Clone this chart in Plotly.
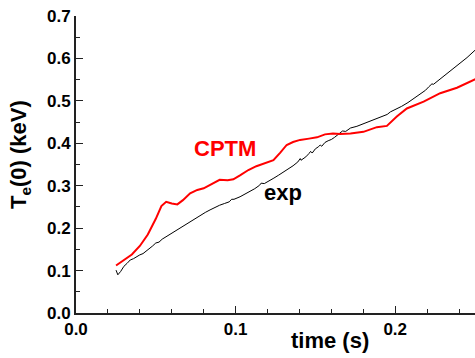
import plotly.graph_objects as go

# CPTM model (red)
cptm_t = [0.0251, 0.030, 0.035, 0.040, 0.045, 0.050, 0.0535, 0.0565, 0.060, 0.0635,
          0.067, 0.0715, 0.076, 0.080, 0.085, 0.090, 0.095, 0.0986, 0.103, 0.108,
          0.113, 0.118, 0.1237, 0.128, 0.132, 0.136, 0.1404, 0.146, 0.151, 0.156,
          0.161, 0.1655, 0.172, 0.1801, 0.1885, 0.1948, 0.198, 0.201, 0.2073, 0.2178,
          0.2282, 0.2387, 0.2502]
cptm_te = [0.112, 0.124, 0.138, 0.158, 0.185, 0.222, 0.252, 0.262, 0.258, 0.256,
           0.266, 0.282, 0.290, 0.294, 0.305, 0.314, 0.313, 0.315, 0.325, 0.337,
           0.346, 0.352, 0.360, 0.378, 0.396, 0.403, 0.408, 0.411, 0.414, 0.421,
           0.423, 0.422, 0.423, 0.427, 0.438, 0.441, 0.452, 0.463, 0.482, 0.498,
           0.518, 0.531, 0.551]

# experiment (black)
exp_t = [0.0251, 0.0256, 0.0262, 0.028, 0.030, 0.032, 0.034, 0.036, 0.038, 0.040,
         0.042, 0.044, 0.046, 0.048, 0.050, 0.052, 0.054, 0.057, 0.060, 0.063,
         0.066, 0.069, 0.072, 0.075, 0.078, 0.081, 0.084, 0.087, 0.090, 0.093,
         0.096, 0.0975, 0.099, 0.1028, 0.106, 0.109, 0.112, 0.115, 0.116, 0.118,
         0.121, 0.124, 0.127, 0.130, 0.133, 0.136, 0.139, 0.1405, 0.141, 0.144,
         0.146, 0.147, 0.148, 0.150, 0.152, 0.153, 0.154, 0.156, 0.158, 0.160,
         0.162, 0.164, 0.166, 0.167, 0.169, 0.172, 0.176, 0.180, 0.184, 0.188,
         0.192, 0.195, 0.197, 0.200, 0.204, 0.208, 0.212, 0.216, 0.219, 0.221,
         0.223, 0.224, 0.227, 0.231, 0.236, 0.240, 0.245, 0.2502]
exp_te = [0.101, 0.094, 0.090, 0.098, 0.110, 0.117, 0.125, 0.128, 0.133, 0.137,
          0.140, 0.146, 0.150, 0.158, 0.165, 0.167, 0.174, 0.181, 0.189, 0.196,
          0.204, 0.211, 0.218, 0.224, 0.231, 0.237, 0.243, 0.249, 0.254, 0.258,
          0.262, 0.268, 0.268, 0.274, 0.280, 0.287, 0.293, 0.301, 0.306, 0.305,
          0.311, 0.318, 0.325, 0.332, 0.340, 0.347, 0.356, 0.364, 0.360, 0.368,
          0.376, 0.381, 0.377, 0.387, 0.392, 0.396, 0.393, 0.402, 0.406, 0.409,
          0.414, 0.420, 0.424, 0.429, 0.428, 0.436, 0.440, 0.446, 0.451, 0.457,
          0.463, 0.468, 0.474, 0.479, 0.487, 0.496, 0.506, 0.516, 0.525, 0.533,
          0.540, 0.539, 0.548, 0.560, 0.574, 0.587, 0.602, 0.620]

x_range = [0, 0.25]
y_range = [0, 0.7]

FONT = "Liberation Sans, Arial, sans-serif"
AX = "#222222"
L, R, T, B = 76, 0, 16, 45
W, H = 475, 358
pw, ph = W - L - R, H - T - B

fig = go.Figure()
fig.add_trace(go.Scatter(x=exp_t, y=exp_te, mode="lines",
                         line=dict(color="black", width=1), showlegend=False))
fig.add_trace(go.Scatter(x=cptm_t, y=cptm_te, mode="lines",
                         line=dict(color="#ff0000", width=2), showlegend=False))

tickfont = dict(family=FONT, size=17, color="black", weight="bold")

fig.update_layout(
    xaxis=dict(range=x_range, dtick=0.1, tick0=0, tickformat=".1f",
               showgrid=False, zeroline=False, showline=True, linecolor=AX, linewidth=2,
               ticks="inside", ticklen=7, tickwidth=1, tickcolor=AX, tickfont=tickfont),
    yaxis=dict(range=y_range, dtick=0.1, tick0=0, tickformat=".1f",
               showgrid=False, zeroline=False, showline=True, linecolor=AX, linewidth=2,
               ticks="inside", ticklen=7, tickwidth=1, tickcolor=AX, tickfont=tickfont),
    xaxis2=dict(range=x_range, dtick=0.02, tick0=0, overlaying="x", side="bottom",
                showgrid=False, zeroline=False, showline=False, showticklabels=False,
                ticks="inside", ticklen=4, tickwidth=1, tickcolor=AX),
    yaxis2=dict(range=y_range, dtick=0.05, tick0=0, overlaying="y", side="left",
                showgrid=False, zeroline=False, showline=False, showticklabels=False,
                ticks="inside", ticklen=4, tickwidth=1, tickcolor=AX),
)
fig.add_trace(go.Scatter(x=[], y=[], xaxis="x2", yaxis="y2", showlegend=False))

fig.add_annotation(text="<b>CPTM</b>", x=0.0934, y=0.387, xref="x", yref="y", showarrow=False,
                   xanchor="center", yanchor="middle",
                   font=dict(family=FONT, size=22, color="#ff0000"))
fig.add_annotation(text="<b>exp</b>", x=0.130, y=0.283, xref="x", yref="y", showarrow=False,
                   xanchor="center", yanchor="middle",
                   font=dict(family=FONT, size=22, color="black"))
fig.add_annotation(text="<b>time (s)</b>", x=(330 - L) / pw, y=(H - B - 340) / ph,
                   xref="paper", yref="paper", xanchor="center", yanchor="middle",
                   showarrow=False, font=dict(family=FONT, size=22, color="black"))
fig.add_annotation(text="<b>T<sub>e</sub>(0) (keV)</b>", x=(20 - L) / pw, y=(H - B - 155) / ph,
                   xref="paper", yref="paper", xanchor="center", yanchor="middle",
                   textangle=-90, showarrow=False,
                   font=dict(family=FONT, size=22, color="black"))

fig.update_layout(width=W, height=H, margin=dict(l=L, r=R, t=T, b=B),
                  plot_bgcolor="white", paper_bgcolor="white")
fig.write_html("out.html")
